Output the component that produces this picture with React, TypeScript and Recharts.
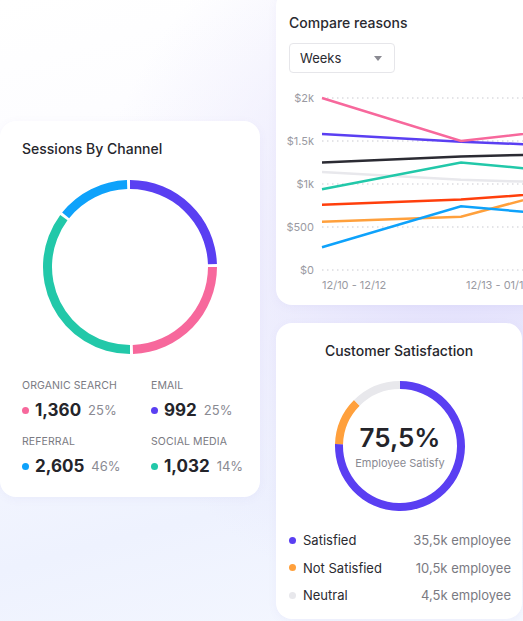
import { CartesianGrid, Cell, Line, LineChart, Pie, PieChart, XAxis, YAxis } from "recharts";

// compare reasons (line chart)
const weeks = ["12/10 - 12/12", "12/13 - 01/19", "01/20 - 02/25"];
const pinkSeries = [2000, 1500, 1680];
const purpleSeries = [1580, 1490, 1430];
const blackSeries = [1250, 1320, 1360];
const tealSeries = [940, 1250, 1100];
const graySeries = [1140, 1050, 1000];
const redSeries = [760, 820, 935];
const orangeSeries = [560, 620, 1050];
const blueSeries = [265, 740, 600];
const yTicks = [0, 500, 1000, 1500, 2000];

// sessions by channel
const channelNames = ["ORGANIC SEARCH", "EMAIL", "REFERRAL", "SOCIAL MEDIA"];
const channelValues = ["1,360", "992", "2,605", "1,032"];
const channelPercents = ["25%", "25%", "46%", "14%"];
const ringNames = ["Email", "Organic Search", "Social Media", "Referral"];
const ringShare = [25, 25, 36, 14];

// customer satisfaction
const satisfactionNames = ["Satisfied", "Not Satisfied", "Neutral"];
const satisfactionCounts = ["35,5k employee", "10,5k employee", "4,5k employee"];
const satisfactionShare = [75.5, 12, 12.5];

const PURPLE = "#5a3ff2";
const PINK = "#f7689c";
const TEAL = "#22c8a9";
const BLUE = "#0ea2fb";
const ORANGE = "#ffa03c";
const RED = "#ff3f0c";
const BLACK = "#2b2b33";
const LIGHT = "#e8e8ec";

const channelColors = [PINK, PURPLE, BLUE, TEAL];
const ringColors = [PURPLE, PINK, TEAL, BLUE];
const satisfactionColors = [PURPLE, ORANGE, LIGHT];

const font = "Inter, 'Noto Sans', sans-serif";

const lineData = weeks.map((w, i) => ({
  week: w,
  gray: graySeries[i],
  pink: pinkSeries[i],
  purple: purpleSeries[i],
  black: blackSeries[i],
  teal: tealSeries[i],
  red: redSeries[i],
  orange: orangeSeries[i],
  blue: blueSeries[i],
}));

const lineKeys: [string, string][] = [
  ["gray", LIGHT],
  ["black", BLACK],
  ["teal", TEAL],
  ["red", RED],
  ["orange", ORANGE],
  ["blue", BLUE],
  ["purple", PURPLE],
  ["pink", PINK],
];

const ringData = ringNames.map((n, i) => ({ name: n, value: ringShare[i] }));
const satisfactionData = satisfactionNames.map((n, i) => ({ name: n, value: satisfactionShare[i] }));

const card: React.CSSProperties = {
  position: "absolute",
  background: "#fff",
  borderRadius: 16,
  overflow: "hidden",
  boxShadow: "0 2px 10px rgba(120,110,200,0.06)",
};

const noMargin = { top: 0, right: 0, bottom: 0, left: 0 };

function money(v: number) {
  if (v === 0) return "$0";
  if (v < 1000) return `$${v}`;
  return `$${v / 1000}k`;
}

function XTick(props: any) {
  const { x, y, payload, index } = props;
  return (
    <text x={x + (index > 0 ? 5 : 0)} y={y + 11} textAnchor="start" fontSize={11} fill="#9a9aa2" fontFamily={font}>
      {payload.value}
    </text>
  );
}

function Dot({ color }: { color: string }) {
  return (
    <span
      style={{
        display: "inline-block",
        width: 7,
        height: 7,
        borderRadius: "50%",
        background: color,
      }}
    />
  );
}

export default function App() {
  return (
    <div
      style={{
        position: "fixed",
        left: 0,
        top: 0,
        width: 523,
        height: 621,
        overflow: "hidden",
        fontFamily: font,
        background:
          "radial-gradient(circle at 88% 40%, rgba(225,222,252,1) 0%, rgba(230,228,252,0.6) 30%, rgba(240,240,254,0) 62%), linear-gradient(165deg, #ffffff 0%, #fbfbff 35%, #eef2fe 75%, #f5f8ff 100%)",
      }}
    >
      {/* Sessions by channel */}
      <div style={{ ...card, left: 0, top: 121, width: 260, height: 376 }}>
        <div style={{ position: "absolute", left: 22, top: 19, fontSize: 14, fontWeight: 500, color: "#26262c" }}>
          Sessions By Channel
        </div>
        <div style={{ position: "absolute", left: 30, top: 46 }}>
          <PieChart width={200} height={200} margin={noMargin}>
            <Pie
              data={ringData}
              dataKey="value"
              cx={100}
              cy={100}
              innerRadius={78}
              outerRadius={87}
              startAngle={90}
              endAngle={-270}
              paddingAngle={2}
              stroke="none"
              isAnimationActive={false}
            >
              {ringData.map((d, i) => (
                <Cell key={d.name} fill={ringColors[i]} />
              ))}
            </Pie>
          </PieChart>
        </div>
        {channelNames.map((name, i) => {
          const left = i % 2 === 0 ? 22 : 151;
          const top = i < 2 ? 258 : 314;
          return (
            <div key={name} style={{ position: "absolute", left, top }}>
              <div style={{ fontSize: 10.5, color: "#7a7a82", letterSpacing: 0.1 }}>{name}</div>
              <div style={{ display: "flex", alignItems: "center", marginTop: 8 }}>
                <Dot color={channelColors[i]} />
                <span style={{ fontSize: 17, fontWeight: 700, color: "#24242a", marginLeft: 6 }}>
                  {channelValues[i]}
                </span>
                <span style={{ fontSize: 13, color: "#8a8a92", marginLeft: 7 }}>{channelPercents[i]}</span>
              </div>
            </div>
          );
        })}
      </div>

      {/* Compare reasons */}
      <div style={{ ...card, left: 276, top: -10, width: 300, height: 315 }}>
        <div style={{ position: "absolute", left: 13, top: 24, fontSize: 14, fontWeight: 500, color: "#2a2a30" }}>
          Compare reasons
        </div>
        <div
          style={{
            position: "absolute",
            left: 13,
            top: 53,
            width: 104,
            height: 28,
            border: "1px solid #e6e6ea",
            borderRadius: 4,
          }}
        >
          <span style={{ position: "absolute", left: 10, top: 6, fontSize: 13, color: "#2a2a30" }}>Weeks</span>
          <span
            style={{
              position: "absolute",
              left: 84,
              top: 12,
              width: 0,
              height: 0,
              borderLeft: "4.5px solid transparent",
              borderRight: "4.5px solid transparent",
              borderTop: "5px solid #8a8a92",
            }}
          />
        </div>
        <div style={{ position: "absolute", left: 6, top: 98 }}>
          <LineChart width={318} height={212} data={lineData} margin={{ top: 10, right: 0, bottom: 0, left: 0 }}>
            <CartesianGrid vertical={false} stroke="#c9c9d0" strokeDasharray="1.5 3.5" />
            <XAxis
              dataKey="week"
              axisLine={false}
              tickLine={false}
              height={30}
              tick={<XTick />}
              interval={0}
            />
            <YAxis
              width={40}
              domain={[0, 2000]}
              ticks={yTicks}
              axisLine={false}
              tickLine={false}
              tickFormatter={money}
              tick={{ fontSize: 11, fill: "#9a9aa2", fontFamily: font }}
            />
            {lineKeys.map(([key, color]) => (
              <Line
                key={key}
                type="linear"
                dataKey={key}
                stroke={color}
                strokeWidth={2.5}
                dot={false}
                isAnimationActive={false}
              />
            ))}
          </LineChart>
        </div>
      </div>

      {/* Customer satisfaction */}
      <div style={{ ...card, left: 276, top: 323, width: 246, height: 296 }}>
        <div
          style={{
            position: "absolute",
            left: 0,
            width: 246,
            top: 19,
            textAlign: "center",
            fontSize: 14,
            fontWeight: 500,
            color: "#26262c",
          }}
        >
          Customer Satisfaction
        </div>
        <div style={{ position: "absolute", left: 49, top: 48 }}>
          <PieChart width={150} height={150} margin={noMargin}>
            <Pie
              data={satisfactionData}
              dataKey="value"
              cx={75}
              cy={75}
              innerRadius={57}
              outerRadius={65}
              startAngle={90}
              endAngle={-270}
              stroke="none"
              isAnimationActive={false}
            >
              {satisfactionData.map((d, i) => (
                <Cell key={d.name} fill={satisfactionColors[i]} />
              ))}
            </Pie>
          </PieChart>
        </div>
        <div
          style={{
            position: "absolute",
            left: 0,
            width: 248,
            top: 99,
            textAlign: "center",
            fontSize: 26,
            fontWeight: 600,
            color: "#24242a",
          }}
        >
          75,5%
        </div>
        <div
          style={{
            position: "absolute",
            left: 0,
            width: 248,
            top: 133,
            textAlign: "center",
            fontSize: 11,
            color: "#8a8a92",
          }}
        >
          Employee Satisfy
        </div>
        {satisfactionNames.map((name, i) => (
          <div
            key={name}
            style={{
              position: "absolute",
              left: 13,
              right: 11,
              top: 209 + i * 27.5,
              display: "flex",
              alignItems: "center",
              fontSize: 13,
            }}
          >
            <Dot color={satisfactionColors[i]} />
            <span style={{ marginLeft: 7, color: "#2a2a30" }}>{name}</span>
            <span style={{ marginLeft: "auto", color: "#7a7a82" }}>{satisfactionCounts[i]}</span>
          </div>
        ))}
      </div>
    </div>
  );
}
